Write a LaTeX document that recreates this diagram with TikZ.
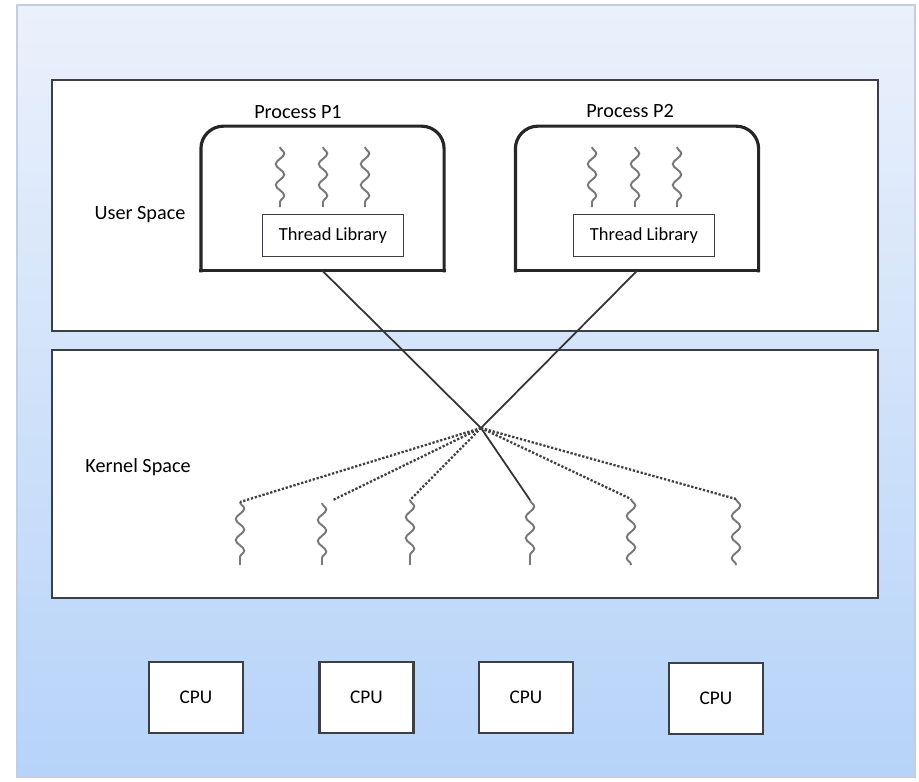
\documentclass[tikz,border=0pt]{standalone}
\usepackage{fontspec}
\setmainfont{Carlito}
\usetikzlibrary{positioning,calc,decorations.pathmorphing}
\definecolor{bgtop}{RGB}{235,241,251}
\definecolor{bgbot}{RGB}{182,211,249}
\definecolor{rim}{RGB}{196,206,222}
\definecolor{edge}{RGB}{60,64,70}
\definecolor{wave}{RGB}{120,120,120}
\tikzset{%
	spacebox/.style = {draw=edge, line width=1.1pt, fill=white, minimum width=16.52cm},
	proc/.style     = {fill=white, minimum width=4.85cm, minimum height=2.88cm},
	procline/.style = {draw=black!85, line width=1.8pt, line cap=rect},
	lib/.style      = {draw=edge, line width=0.9pt, fill=white, minimum width=2.82cm, minimum height=0.84cm, font=\fontsize{10.5}{12}\selectfont},
	cpu/.style      = {draw=edge, line width=1.3pt, fill=white, minimum width=1.88cm, minimum height=1.42cm, font=\fontsize{11}{13}\selectfont},
	spacetext/.style= {font=\fontsize{11.5}{14}\selectfont},
	wavy/.style     = {draw=wave, line width=1.1pt, decorate, decoration={snake, amplitude=0.085cm, segment length=0.42cm}},
	link/.style     = {draw=black!80, line width=1pt},
	dots/.style     = {draw=black!75, line width=1.3pt, densely dotted},
}
\begin{document}
\begin{tikzpicture}[x=0.02cm, y=-0.02cm]
		\useasboundingbox (0,0) rectangle (919,781);
		\shade[top color=bgtop, bottom color=bgbot, draw=rim, line width=0.8pt] (17,5) rectangle (915,777);
		
		\node[spacebox, minimum height=5.02cm] (user) at (465,205.5) {};
		\node[spacebox, minimum height=4.96cm] (kernel) at (465,474) {};
		\node[spacetext] (usertext) at (140,215) {User Space};
		\node[spacetext] (kerneltext) at (138,467) {Kernel Space};
		
		% processes
		\node[proc] (p1) at (322.5,198.5) {};
		\node[proc] (p2) at (637,198.5) {};
		\draw[procline, rounded corners=0.45cm] (p1.south west) -- (p1.north west) -- (p1.north east) -- (p1.south east);
		\draw[procline] (p1.south west) -- (p1.south east);
		\draw[procline, rounded corners=0.45cm] (p2.south west) -- (p2.north west) -- (p2.north east) -- (p2.south east);
		\draw[procline] (p2.south west) -- (p2.south east);
		\node[spacetext] (p1text) at (298,112) {Process P1};
		\node[spacetext] (p2text) at (630,111) {Process P2};
		\node[lib] (lib1) at (333,235.5) {Thread Library};
		\node[lib] (lib2) at (644,235.5) {Thread Library};
		
		\draw[wavy] (280,147) -- (280,207);
		\draw[wavy] (323,147) -- (323,207);
		\draw[wavy] (365,147) -- (365,207);
		\draw[wavy] (592,147) -- (592,207);
		\draw[wavy] (635,147) -- (635,207);
		\draw[wavy] (677,147) -- (677,207);
		
		% kernel threads
		\coordinate (hub) at (481,428);
		\coordinate (k1) at (240,502);
		\coordinate (k2) at (322,503);
		\coordinate (k3) at (410,500);
		\coordinate (k4) at (530,500);
		\coordinate (k5) at (631,499);
		\coordinate (k6) at (736,499);
		\draw[wavy] (k1) -- ++(0,63);
		\draw[wavy] (k2) -- ++(0,62);
		\draw[wavy] (k3) -- ++(0,65);
		\draw[wavy] (k4) -- ++(0,65);
		\draw[wavy] (k5) -- ++(0,66);
		\draw[wavy] (k6) -- ++(0,66);
		
		\draw[link] (p1.south) -- (hub);
		\draw[link] (p2.south) -- (hub);
		\draw[dots] (hub) -- (k1);
		\draw[dots] (hub) -- ([shift={(11,-3)}]k2);
		\draw[dots] (hub) -- (k3);
		\draw[link] (hub) -- (k4);
		\draw[dots] (hub) -- (k5);
		\draw[dots] (hub) -- (k6);
		
		% processors
		\node[cpu] (cpu1) at (196,697.5) {CPU};
		\node[cpu] (cpu2) at (366.5,697.5) {CPU};
		\node[cpu] (cpu3) at (526,697.5) {CPU};
		\node[cpu] (cpu4) at (716,698.5) {CPU};
\end{tikzpicture}
\end{document}
